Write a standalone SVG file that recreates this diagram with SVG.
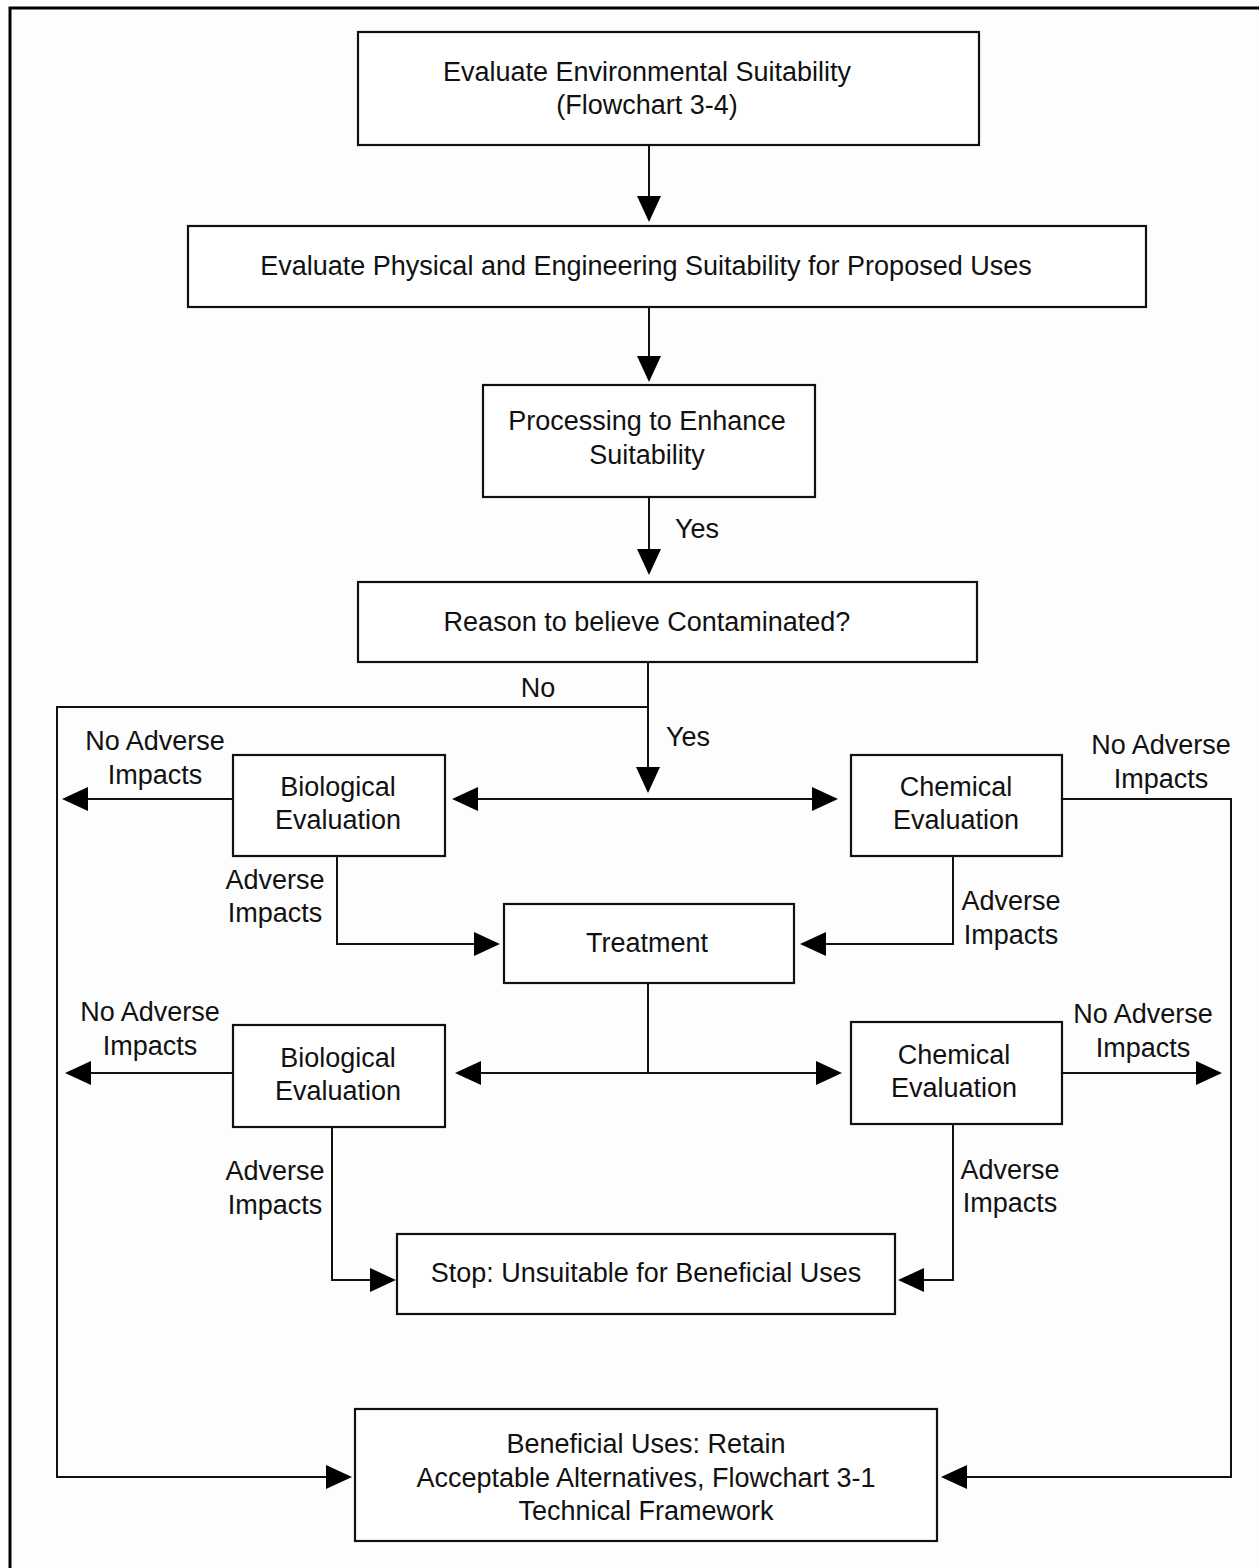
<svg xmlns="http://www.w3.org/2000/svg" width="1259" height="1568" viewBox="0 0 1259 1568">
<style>
.box{fill:#fff;stroke:#111;stroke-width:2.2}
.ln{fill:none;stroke:#111;stroke-width:2}
.ah{fill:#000}
text{font-family:"Liberation Sans",Arial,sans-serif;font-size:27px;fill:#111;text-anchor:middle}
</style>
<rect width="1259" height="1568" fill="#fdfdfd"/>
<path d="M10 1568 V8 H1259" fill="none" stroke="#000" stroke-width="3"/>
<g id="connectors">
<path class="ln" d="M649 145 V200"/>
<polygon class="ah" points="637,196 661,196 649,222"/>
<path class="ln" d="M649 307 V360"/>
<polygon class="ah" points="637,356 661,356 649,382"/>
<path class="ln" d="M649 497 V553"/>
<polygon class="ah" points="637,549 661,549 649,575"/>
<path class="ln" d="M648 662 V770"/>
<polygon class="ah" points="636,767 660,767 648,793"/>
<path class="ln" d="M648 707 H57 V1477 H330"/>
<polygon class="ah" points="326,1465 326,1489 352,1477"/>
<path class="ln" d="M475 799 H815"/>
<polygon class="ah" points="478,787 478,811 452,799"/>
<polygon class="ah" points="812,787 812,811 838,799"/>
<path class="ln" d="M233 799 H85"/>
<polygon class="ah" points="88,787 88,811 62,799"/>
<path class="ln" d="M1062 799 H1231 V1477 H965"/>
<polygon class="ah" points="967,1465 967,1489 941,1477"/>
<path class="ln" d="M337 856 V944 H478"/>
<polygon class="ah" points="474,932 474,956 500,944"/>
<path class="ln" d="M953 856 V944 H822"/>
<polygon class="ah" points="826,932 826,956 800,944"/>
<path class="ln" d="M648 983 V1073"/>
<path class="ln" d="M478 1073 H820"/>
<polygon class="ah" points="481,1061 481,1085 455,1073"/>
<polygon class="ah" points="816,1061 816,1085 842,1073"/>
<path class="ln" d="M233 1073 H88"/>
<polygon class="ah" points="91,1061 91,1085 65,1073"/>
<path class="ln" d="M1062 1073 H1200"/>
<polygon class="ah" points="1196,1061 1196,1085 1222,1073"/>
<path class="ln" d="M332 1127 V1280 H374"/>
<polygon class="ah" points="370,1268 370,1292 396,1280"/>
<path class="ln" d="M953 1124 V1280 H920"/>
<polygon class="ah" points="924,1268 924,1292 898,1280"/>
<text x="697" y="538">Yes</text>
<text x="538" y="697">No</text>
<text x="688" y="746">Yes</text>
<text x="155" y="750">No Adverse</text>
<text x="155" y="784">Impacts</text>
<text x="1161" y="754">No Adverse</text>
<text x="1161" y="788">Impacts</text>
<text x="275" y="889">Adverse</text>
<text x="275" y="922">Impacts</text>
<text x="1011" y="910">Adverse</text>
<text x="1011" y="944">Impacts</text>
<text x="150" y="1021">No Adverse</text>
<text x="150" y="1055">Impacts</text>
<text x="1143" y="1023">No Adverse</text>
<text x="1143" y="1057">Impacts</text>
<text x="275" y="1180">Adverse</text>
<text x="275" y="1214">Impacts</text>
<text x="1010" y="1179">Adverse</text>
<text x="1010" y="1212">Impacts</text>
</g>
<g id="n1"><rect class="box" x="358" y="32" width="621" height="113"/>
<text x="647" y="81">Evaluate Environmental Suitability</text>
<text x="647" y="114">(Flowchart 3-4)</text></g>
<g id="n2"><rect class="box" x="188" y="226" width="958" height="81"/>
<text x="646" y="275">Evaluate Physical and Engineering Suitability for Proposed Uses</text></g>
<g id="n3"><rect class="box" x="483" y="385" width="332" height="112"/>
<text x="647" y="430">Processing to Enhance</text>
<text x="647" y="464">Suitability</text></g>
<g id="n4"><rect class="box" x="358" y="582" width="619" height="80"/>
<text x="647" y="631">Reason to believe Contaminated?</text></g>
<g id="n5"><rect class="box" x="233" y="755" width="212" height="101"/>
<text x="338" y="796">Biological</text>
<text x="338" y="829">Evaluation</text></g>
<g id="n6"><rect class="box" x="851" y="755" width="211" height="101"/>
<text x="956" y="796">Chemical</text>
<text x="956" y="829">Evaluation</text></g>
<g id="n7"><rect class="box" x="504" y="904" width="290" height="79"/>
<text x="647" y="952">Treatment</text></g>
<g id="n8"><rect class="box" x="233" y="1025" width="212" height="102"/>
<text x="338" y="1067">Biological</text>
<text x="338" y="1100">Evaluation</text></g>
<g id="n9"><rect class="box" x="851" y="1022" width="211" height="102"/>
<text x="954" y="1064">Chemical</text>
<text x="954" y="1097">Evaluation</text></g>
<g id="n10"><rect class="box" x="397" y="1234" width="498" height="80"/>
<text x="646" y="1282">Stop: Unsuitable for Beneficial Uses</text></g>
<g id="n11"><rect class="box" x="355" y="1409" width="582" height="132"/>
<text x="646" y="1453">Beneficial Uses: Retain</text>
<text x="646" y="1487">Acceptable Alternatives, Flowchart 3-1</text>
<text x="646" y="1520">Technical Framework</text></g>
</svg>
